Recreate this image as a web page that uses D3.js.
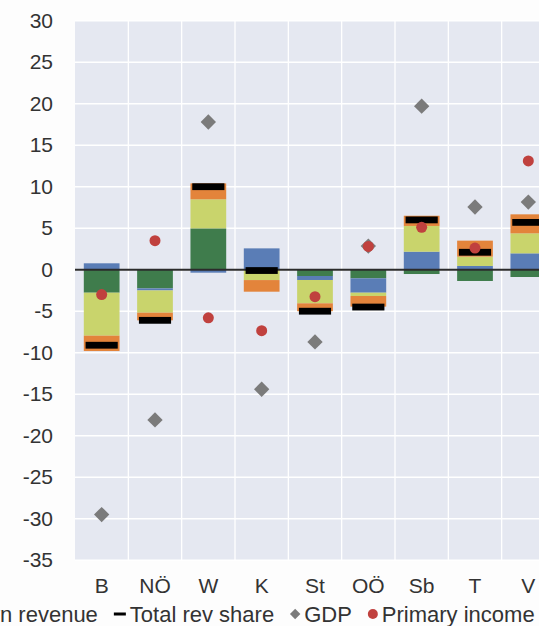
<!DOCTYPE html>
<html>
<head>
<meta charset="utf-8">
<script src="https://cdn.jsdelivr.net/npm/d3@7"></script>
<style>
  html, body { margin: 0; padding: 0; background: #fdfdfd; }
  svg { display: block; font-family: "Liberation Sans", Arial, sans-serif; }
</style>
</head>
<body>
<svg id="chart" width="539" height="626"></svg>
<script>
// Federal states (Bundesländer)
const categories = ["B", "NÖ", "W", "K", "St", "OÖ", "Sb", "T", "V"];

// Revenue components, percentage points (stacked, diverging around zero)
const seriesNames = ["Shared taxes", "Transfers", "Fiscal equalisation", "Own revenue"];
const sharedTaxes   = [-2.77, -2.25,  4.98,  0.00, -0.76, -1.04, -0.52, -1.36, -0.88];
const transfers     = [ 0.77, -0.25, -0.36,  2.57, -0.48, -1.73,  2.17,  0.45,  1.97];
const fiscalEqual   = [-5.18, -2.68,  3.50, -1.25, -2.81, -0.40,  3.10,  1.12,  2.41];
const ownRevenue    = [-1.85, -0.92,  1.92, -1.40, -0.95, -1.28,  1.23,  1.93,  2.29];

// Markers
const totalRevShare = [-9.1, -6.1, 10.0, -0.1, -5.0, -4.5, 6.0, 2.1, 5.7];
const gdp           = [-29.5, -18.1, 17.8, -14.4, -8.7, 2.85, 19.7, 7.55, 8.15];
const primaryIncome = [-3.0, 3.5, -5.8, -7.35, -3.25, 2.8, 5.1, 2.6, 13.1];

// Axis ticks
const yTicks = [30, 25, 20, 15, 10, 5, 0, -5, -10, -15, -20, -25, -30, -35];

const colors = ["#3f7c4c", "#5a7db6", "#c9d46c", "#e3843b"];
const plotBg = "#e5e8f1";

const svg = d3.select("#chart");
const plotLeft = 75, plotRight = 555, plotTop = 20.7, plotBottom = 560.2;

const x = d3.scaleBand()
  .domain(categories)
  .range([plotLeft, plotRight])
  .paddingInner(0.33)
  .paddingOuter(0.165);

const y = d3.scaleLinear()
  .domain([-35, 30])
  .range([plotBottom, plotTop]);

// Plot background
svg.append("rect")
  .attr("x", plotLeft).attr("y", plotTop)
  .attr("width", plotRight - plotLeft).attr("height", plotBottom - plotTop)
  .attr("fill", plotBg);

// Horizontal grid
svg.append("g")
  .selectAll("line")
  .data(yTicks)
  .join("line")
  .attr("x1", plotLeft).attr("x2", plotRight)
  .attr("y1", d => y(d)).attr("y2", d => y(d))
  .attr("stroke", "#ffffff").attr("stroke-width", 1.6);

// Vertical grid between states
const step = x.step();
const gap = step * x.paddingInner();
svg.append("g")
  .selectAll("line")
  .data(categories.slice(1))
  .join("line")
  .attr("x1", d => x(d) - gap / 2)
  .attr("x2", d => x(d) - gap / 2)
  .attr("y1", plotTop).attr("y2", plotBottom)
  .attr("stroke", "#ffffff").attr("stroke-width", 1.3);

// Stacked bars
const rows = categories.map((c, i) => ({
  cat: c,
  [seriesNames[0]]: sharedTaxes[i],
  [seriesNames[1]]: transfers[i],
  [seriesNames[2]]: fiscalEqual[i],
  [seriesNames[3]]: ownRevenue[i]
}));

const stack = d3.stack()
  .keys(seriesNames)
  .offset(d3.stackOffsetDiverging);

const layers = stack(rows);

svg.append("g")
  .selectAll("g")
  .data(layers)
  .join("g")
  .attr("fill", (d, i) => colors[i])
  .selectAll("rect")
  .data(d => d)
  .join("rect")
  .attr("x", d => x(d.data.cat))
  .attr("width", x.bandwidth())
  .attr("y", d => y(Math.max(d[0], d[1])))
  .attr("height", d => Math.abs(y(d[0]) - y(d[1])));

// Zero line
svg.append("line")
  .attr("x1", plotLeft).attr("x2", plotRight)
  .attr("y1", y(0)).attr("y2", y(0))
  .attr("stroke", "#2b2b2b").attr("stroke-width", 2);

// Total revenue share markers
const markW = x.bandwidth() * 0.9;
svg.append("g")
  .selectAll("rect")
  .data(totalRevShare)
  .join("rect")
  .attr("x", (d, i) => x(categories[i]) + (x.bandwidth() - markW) / 2)
  .attr("width", markW)
  .attr("y", d => y(d) - 3.4)
  .attr("height", 6.8)
  .attr("fill", "#000000");

// GDP diamonds
const diamond = d3.symbol().type(d3.symbolDiamond2).size(150);
svg.append("g")
  .selectAll("path")
  .data(gdp)
  .join("path")
  .attr("d", diamond)
  .attr("transform", (d, i) => `translate(${x(categories[i]) + x.bandwidth() / 2},${y(d)})`)
  .attr("fill", "#7b7b7b");

// Primary income dots
svg.append("g")
  .selectAll("circle")
  .data(primaryIncome)
  .join("circle")
  .attr("cx", (d, i) => x(categories[i]) + x.bandwidth() / 2)
  .attr("cy", d => y(d))
  .attr("r", 5.5)
  .attr("fill", "#c0413e");

// Axes
const yAxis = svg.append("g")
  .attr("transform", `translate(${plotLeft - 22},0)`)
  .call(d3.axisLeft(y).tickValues(yTicks).tickSize(0).tickPadding(0).tickFormat(d => String(d)));
yAxis.select(".domain").remove();
yAxis.selectAll("text")
  .attr("font-size", 21)
  .attr("fill", "#333333")
  .attr("font-family", "Liberation Sans, Arial, sans-serif");

const xAxis = svg.append("g")
  .attr("transform", `translate(0,${plotBottom})`)
  .call(d3.axisBottom(x).tickSize(0).tickPadding(18));
xAxis.select(".domain").remove();
xAxis.selectAll("text")
  .attr("font-size", 21)
  .attr("fill", "#333333")
  .attr("font-family", "Liberation Sans, Arial, sans-serif");

// Legend (one row, wider than the canvas)
const legendItems = [
  { name: seriesNames[0], type: "rect", color: colors[0] },
  { name: seriesNames[1], type: "rect", color: colors[1] },
  { name: seriesNames[2], type: "rect", color: colors[2] },
  { name: seriesNames[3], type: "rect", color: colors[3] },
  { name: "Total rev share", type: "dash", color: "#000000" },
  { name: "GDP", type: "diamond", color: "#7b7b7b" },
  { name: "Primary income", type: "dot", color: "#c0413e" }
];

const legendFont = 22;
const legend = svg.append("g");
let cursor = 0, anchorX = 0;
legendItems.forEach(it => {
  const g = legend.append("g").attr("transform", `translate(${cursor},0)`);
  if (it.type === "rect") {
    g.append("rect").attr("x", 0).attr("y", -6).attr("width", 12).attr("height", 12).attr("fill", it.color);
  } else if (it.type === "dash") {
    g.append("rect").attr("x", 0).attr("y", -1.5).attr("width", 12).attr("height", 3).attr("fill", it.color);
  } else if (it.type === "diamond") {
    g.append("path").attr("d", d3.symbol().type(d3.symbolDiamond2).size(70)).attr("transform", "translate(5,0)").attr("fill", it.color);
  } else {
    g.append("circle").attr("cx", 5).attr("cy", 0).attr("r", 5).attr("fill", it.color);
  }
  const symW = it.type === "diamond" || it.type === "dot" ? 10 : 12;
  const t = g.append("text")
    .attr("x", symW + 4)
    .attr("y", 0)
    .attr("dy", "0.35em")
    .attr("font-size", legendFont)
    .attr("fill", "#333333")
    .text(it.name);
  if (it.name === seriesNames[3]) {
    // position where the "n" of "Own" begins
    anchorX = cursor + symW + 4 + t.node().getSubStringLength(0, 2);
  }
  cursor += symW + 4 + t.node().getComputedTextLength() + 16;
});
legend.attr("transform", `translate(${-anchorX},614)`);
</script>
</body>
</html>
